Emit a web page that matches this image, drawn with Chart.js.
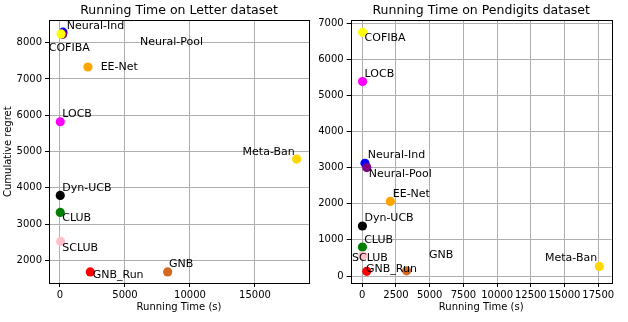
<!DOCTYPE html>
<html>
<head>
<meta charset="utf-8">
<script src="https://cdn.jsdelivr.net/npm/chart.js@4.4.1/dist/chart.umd.min.js"></script>
<style>
  body { margin: 0; background: #fff; }
  #wrap { position: relative; width: 628px; height: 322px; }
  canvas { position: absolute; top: 0; }
</style>
</head>
<body>
<div id="wrap">
  <canvas id="letterChart" width="314" height="322" style="left:0"></canvas>
  <canvas id="pendChart" width="314" height="322" style="left:314px"></canvas>
</div>
<script>
const methods = ['Neural-Ind', 'Neural-Pool', 'COFIBA', 'LOCB', 'EE-Net', 'Meta-Ban', 'Dyn-UCB', 'CLUB', 'SCLUB', 'GNB', 'GNB_Run'];
const colors = ['#0000ff', '#800080', '#ffff00', '#ff00ff', '#ffa500', '#ffd700', '#000000', '#008000', '#ffc0cb', '#d2691e', '#ff0000'];

// Letter dataset
const letterTime = [230, 200, 80, 20, 2150, 18200, 20, 20, 50, 8280, 2330];
const letterRegret = [8290, 8230, 8240, 5820, 7330, 4790, 3790, 3320, 2520, 1680, 1680];
const letterXTicks = [0, 5000, 10000, 15000];
const letterYTicks = [2000, 3000, 4000, 5000, 6000, 7000, 8000];

// Pendigits dataset
const pendTime = [200, 330, 20, 20, 2080, 17580, 10, 10, 30, 3290, 330];
const pendRegret = [3120, 3000, 6745, 5380, 2065, 265, 1385, 800, 560, 145, 130];
const pendXTicks = [0, 2500, 5000, 7500, 10000, 12500, 15000, 17500];
const pendYTicks = [0, 1000, 2000, 3000, 4000, 5000, 6000, 7000];

// label offsets in px from the marker (text left, text middle)
const letterLabelOffsets = [[3.7, -5.7], [77.4, 8.3], [-12.3, 14.4], [2, -7.4], [12.7, 0.3], [-54, -7.3], [2, -7.6], [2, 6], [1.6, 6.4], [1.3, -8], [2.4, 3]];
const pendLabelOffsets = [[2.7, -8.3], [2, 6.4], [2, 6.3], [2, -7.7], [2.4, -7.7], [-54.3, -8], [2, -7.7], [1.7, -7.3], [-10.7, 2.3], [22.3, -15.7], [-0.7, -2]];

const FONT = 'DejaVu Sans';

const labelPlugin = {
  id: 'pointLabels',
  afterDatasetsDraw(chart, args, opts) {
    const ctx = chart.ctx;
    const meta = chart.getDatasetMeta(0);
    ctx.save();
    ctx.font = '11px "' + FONT + '"';
    ctx.fillStyle = '#000';
    ctx.textAlign = 'left';
    ctx.textBaseline = 'middle';
    meta.data.forEach((pt, i) => {
      const off = opts.offsets[i];
      ctx.fillText(methods[i], pt.x + off[0], pt.y + off[1]);
    });
    ctx.restore();
  }
};

const framePlugin = {
  id: 'frame',
  afterDraw(chart) {
    const a = chart.chartArea;
    const ctx = chart.ctx;
    ctx.save();
    ctx.strokeStyle = '#000';
    ctx.lineWidth = 1;
    ctx.strokeRect(Math.round(a.left) + 0.5, Math.round(a.top) + 0.5,
      Math.round(a.right) - Math.round(a.left), Math.round(a.bottom) - Math.round(a.top));
    ctx.restore();
  }
};

const criarGrafico = (id, cfg) => {
  const ctx = document.getElementById(id).getContext('2d');
  return new Chart(ctx, {
    type: 'scatter',
    data: {
      datasets: [{
        data: cfg.xs.map((x, i) => ({ x: x, y: cfg.ys[i] })),
        pointBackgroundColor: colors,
        pointBorderWidth: 0,
        pointRadius: 4.6,
        pointHoverRadius: 4.6
      }]
    },
    options: {
      responsive: false,
      animation: false,
      devicePixelRatio: 1,
      layout: { padding: { left: 0, right: cfg.padRight, top: 0, bottom: 0 } },
      plugins: {
        legend: { display: false },
        tooltip: { enabled: false },
        title: {
          display: true,
          fullSize: false,
          text: cfg.title,
          color: '#000',
          font: { family: FONT, size: 12.5, weight: 'normal' },
          padding: { top: 3, bottom: 2.4 }
        },
        pointLabels: { offsets: cfg.offsets }
      },
      scales: {
        x: {
          type: 'linear',
          min: cfg.xMin,
          max: cfg.xMax,
          afterBuildTicks: s => { s.ticks = cfg.xTicks.map(v => ({ value: v })); },
          afterFit: s => { s.height = 39; },
          ticks: {
            color: '#000',
            font: { family: FONT, size: 10 },
            padding: 2,
            maxRotation: 0,
            autoSkip: false,
            callback: v => String(v)
          },
          grid: { color: '#b0b0b0', lineWidth: 1, tickColor: '#000', tickLength: 4, tickWidth: 1 },
          border: { display: false },
          title: {
            display: true,
            text: 'Running Time (s)',
            color: '#000',
            font: { family: FONT, size: 10 },
            padding: { top: 0, bottom: 9 }
          }
        },
        y: {
          type: 'linear',
          min: cfg.yMin,
          max: cfg.yMax,
          afterBuildTicks: s => { s.ticks = cfg.yTicks.map(v => ({ value: v })); },
          afterFit: s => { s.width = cfg.yWidth; },
          ticks: {
            color: '#000',
            font: { family: FONT, size: 10 },
            padding: 3,
            autoSkip: false,
            callback: v => String(v)
          },
          grid: { color: '#b0b0b0', lineWidth: 1, tickColor: '#000', tickLength: 4, tickWidth: 1 },
          border: { display: false },
          title: {
            display: cfg.yTitle !== '',
            text: cfg.yTitle,
            color: '#000',
            font: { family: FONT, size: 10 },
            padding: { top: 2, bottom: 0 }
          }
        }
      }
    },
    plugins: [labelPlugin, framePlugin]
  });
};

criarGrafico('letterChart', {
  title: 'Running Time on Letter dataset',
  xs: letterTime, ys: letterRegret,
  xTicks: letterXTicks, yTicks: letterYTicks,
  xMin: -846, xMax: 19154, yMin: 1375, yMax: 8614,
  yWidth: 49, padRight: 5,
  yTitle: 'Cumulative regret',
  offsets: letterLabelOffsets
});

criarGrafico('pendChart', {
  title: 'Running Time on Pendigits dataset',
  xs: pendTime, ys: pendRegret,
  xTicks: pendXTicks, yTicks: pendYTicks,
  xMin: -860, xMax: 18500, yMin: -193, yMax: 7074,
  yWidth: 36.7, padRight: 16.3,
  yTitle: '',
  offsets: pendLabelOffsets
});
</script>
</body>
</html>
